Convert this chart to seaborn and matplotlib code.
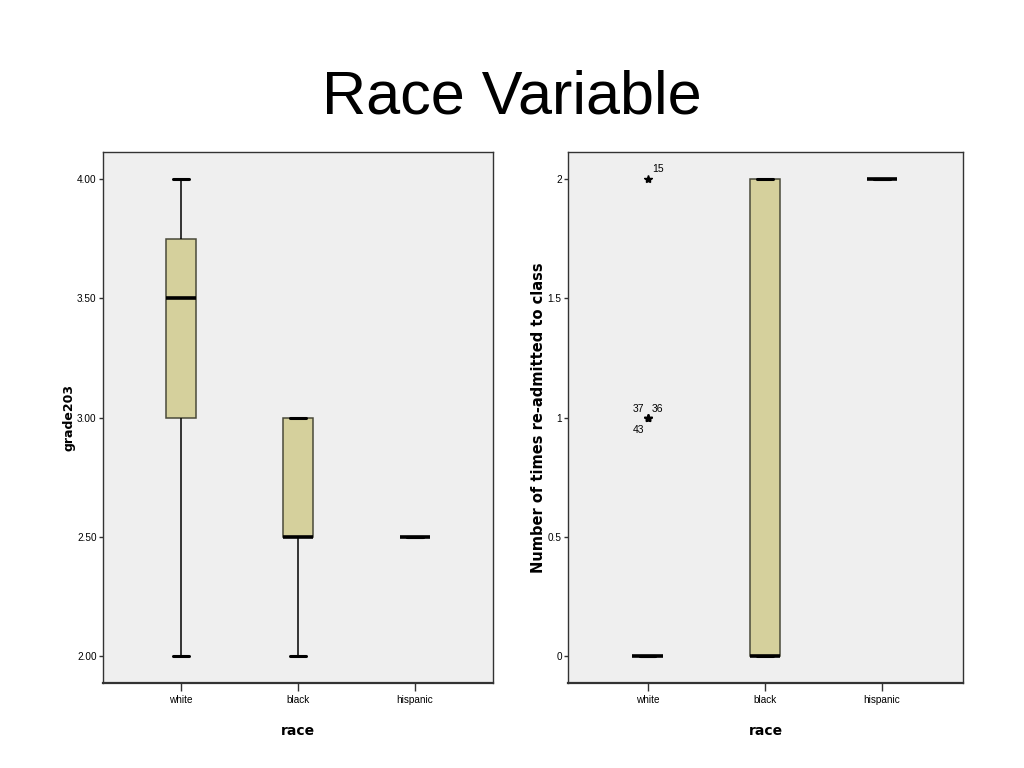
import pandas as pd
import matplotlib
matplotlib.use('Agg')
import matplotlib.pyplot as plt
import seaborn as sns

# valores
race_order = ['white', 'black', 'hispanic']

grade_white = [2.0, 3.0, 3.0, 3.5, 3.5, 3.75, 3.75, 4.0]
grade_black = [2.0, 2.5, 2.5, 3.0, 3.0]
grade_hispanic = [2.5, 2.5]

readmit_white = [0, 0, 0, 0, 0, 0, 0, 0, 0, 0, 0, 0, 0, 0, 0, 0, 0, 0, 0, 0, 1, 1, 1, 2]
readmit_black = [0, 0, 0, 2, 2]
readmit_hispanic = [2, 2]

# casos atipicos etiquetados (grupo white)
outlier_cases = ['15', '37', '36', '43']
outlier_values = [2, 1, 1, 1]

grade_ticks = [2.0, 2.5, 3.0, 3.5, 4.0]
readmit_ticks = [0, 0.5, 1, 1.5, 2]
readmit_tick_labels = ['0', '0.5', '1', '1.5', '2']

datos_grade = pd.DataFrame({
    'race': ['white'] * len(grade_white) + ['black'] * len(grade_black) + ['hispanic'] * len(grade_hispanic),
    'grade203': grade_white + grade_black + grade_hispanic,
})
datos_readmit = pd.DataFrame({
    'race': ['white'] * len(readmit_white) + ['black'] * len(readmit_black) + ['hispanic'] * len(readmit_hispanic),
    'readmit': readmit_white + readmit_black + readmit_hispanic,
})

sns.set_style('ticks')
plt.rcParams['font.family'] = ['Liberation Sans', 'DejaVu Sans']
plt.rcParams['text.color'] = 'black'
plt.rcParams['axes.labelcolor'] = 'black'
plt.rcParams['xtick.color'] = '#333333'
plt.rcParams['ytick.color'] = '#333333'
plt.rcParams['xtick.labelcolor'] = 'black'
plt.rcParams['ytick.labelcolor'] = 'black'

caja = '#d5d09c'
fondo = '#efefef'
narrow = ['Liberation Sans Narrow', 'Liberation Sans', 'DejaVu Sans']

fig = plt.figure(figsize=(10.24, 7.68), dpi=100)
ax1 = fig.add_axes([0.1006, 0.1107, 0.381, 0.6914])
ax2 = fig.add_axes([0.5547, 0.1107, 0.3857, 0.6914])

estilo = dict(
    order=race_order, width=0.26, color=caja, saturation=1,
    linecolor='black', linewidth=1.1,
    medianprops={'color': 'black', 'linewidth': 2.6},
    boxprops={'edgecolor': '#4a4a3a'},
    capprops={'linewidth': 2.2},
    flierprops={'marker': '*', 'markersize': 6, 'markerfacecolor': 'black',
                'markeredgecolor': 'black'},
)

sns.boxplot(data=datos_grade, x='race', y='grade203', ax=ax1, **estilo)
sns.boxplot(data=datos_readmit, x='race', y='readmit', ax=ax2, **estilo)

# etiquetas de los casos atipicos
offsets = {'15': (3, 7), '37': (-11, 6), '36': (3, 6), '43': (-11, -9)}
for caso, valor in zip(outlier_cases, outlier_values):
    dx, dy = offsets[caso]
    ax2.annotate(caso, xy=(0, valor), xytext=(dx, dy), textcoords='offset points',
                 fontsize=7.5, family=narrow, va='center', ha='left')

for ax in (ax1, ax2):
    ax.set_facecolor(fondo)
    for s in ax.spines.values():
        s.set_visible(True)
        s.set_color('#333333')
        s.set_linewidth(1.0)
    ax.spines['bottom'].set_linewidth(1.6)
    ax.tick_params(axis='both', direction='out', length=3, width=1,
                   labelsize=7.2, pad=1.5, left=True, bottom=True)
    ax.tick_params(axis='x', length=6, pad=2.5)
    ax.set_xlabel('race', fontsize=10, fontweight='bold', labelpad=14,
                  family=['DejaVu Sans'])

ax1.set_xlim(-0.667, 2.667)
ax2.set_xlim(-0.68, 2.69)
ax1.set_ylim(1.889, 4.113)
ax2.set_ylim(-0.111, 2.113)

ax1.set_yticks(grade_ticks)
ax1.set_yticklabels(['%.2f' % v for v in grade_ticks], family=narrow)
ax2.set_yticks(readmit_ticks)
ax2.set_yticklabels(readmit_tick_labels, family=narrow)
ax1.set_xticks(range(len(race_order)))
ax1.set_xticklabels(race_order, family=narrow)
ax2.set_xticks(range(len(race_order)))
ax2.set_xticklabels(race_order, family=narrow)

ax1.set_ylabel('grade203', fontsize=9, fontweight='bold', labelpad=1,
               family=['DejaVu Sans'])
ax2.set_ylabel('Number of times re-admitted to class', fontsize=10.5, fontweight='bold',
               labelpad=1, family=['DejaVu Sans'])

fig.text(0.5, 0.872, 'Race Variable', ha='center', va='center', fontsize=44, color='black')

fig.savefig('out.png', dpi=100)
